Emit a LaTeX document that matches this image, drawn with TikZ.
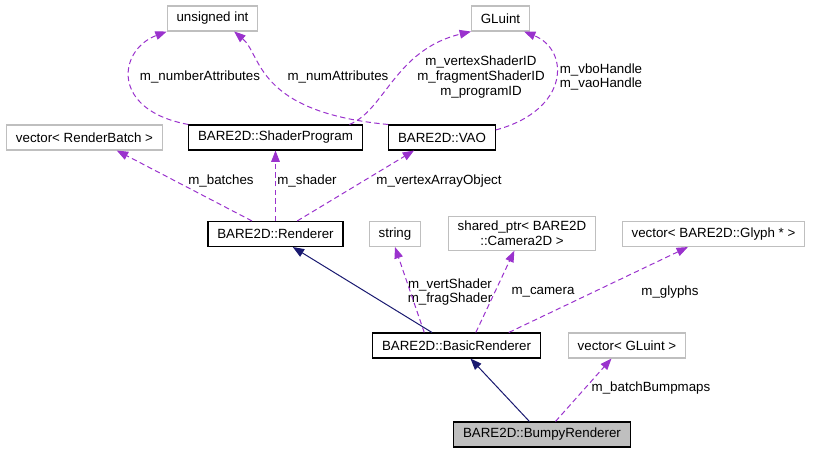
\documentclass[tikz,border=0pt]{standalone}
\usepackage{fontspec}
\setmainfont{Liberation Sans}
\usetikzlibrary{arrows.meta}

\definecolor{dxpurple}{HTML}{9A32CD}
\definecolor{dxnavy}{HTML}{191970}
\definecolor{dxgray}{HTML}{BFBFBF}

\begin{document}
\begin{tikzpicture}[x=0.75pt, y=-0.75pt, >={Triangle[length=8.5pt,width=6.5pt]},
    cls/.style={draw=black, line width=0.8pt, inner xsep=7pt, minimum height=18.75pt,
        font=\fontsize{10}{11}\selectfont},
    ext/.style={cls, draw=dxgray},
    usage/.style={->, dxpurple, line width=0.75pt, dash pattern=on 4pt off 2.5pt},
    inherit/.style={->, dxnavy, line width=0.75pt},
    lbl/.style={font=\fontsize{10}{11}\selectfont, align=center, inner sep=0pt}]
    \useasboundingbox (0,0) rectangle (813,453);

    % classes and members
    \node[ext] (uint) at (212.5,18.5) {unsigned int};
    \node[ext] (gluint) at (500.5,18.5) {GLuint};
    \node[ext] (rbatch) at (84.5,137.5) {vector< RenderBatch >};
    \node[cls] (shprog) at (275.5,137.5) {BARE2D::ShaderProgram};
    \node[cls] (vao) at (442,137.5) {BARE2D::VAO};
    \node[cls] (rend) at (275.5,234) {BARE2D::Renderer};
    \node[ext] (str) at (395,234) {string};
    \node[ext, align=center] (cam) at (522,233.5) {shared\_ptr< BARE2D\\::Camera2D >};
    \node[ext] (glyphs) at (713.5,234) {vector< BARE2D::Glyph * >};
    \node[cls] (basic) at (456.5,345.5) {BARE2D::BasicRenderer};
    \node[ext] (bumpmaps) at (627,345.5) {vector< GLuint >};
    \node[cls, fill=dxgray] (bumpy) at (542,434.5) {BARE2D::BumpyRenderer};

    % edge labels
    \node[lbl] (lnumber) at (200,77) {m\_numberAttributes};
    \node[lbl] (lnum) at (338,77) {m\_numAttributes};
    \node[lbl] (lids) at (481,77) {m\_vertexShaderID\\m\_fragmentShaderID\\m\_programID};
    \node[lbl] (lhandles) at (601,77) {m\_vboHandle\\m\_vaoHandle};
    \node[lbl] (lbatches) at (221,181) {m\_batches};
    \node[lbl] (lshader) at (307,181) {m\_shader};
    \node[lbl] (lvao) at (439,181) {m\_vertexArrayObject};
    \node[lbl] (lshaders) at (450,292) {m\_vertShader\\m\_fragShader};
    \node[lbl] (lcam) at (543,292) {m\_camera};
    \node[lbl] (lglyphs) at (670,292) {m\_glyphs};
    \node[lbl] (lbump) at (651,388) {m\_batchBumpmaps};

    % usage
    \draw[usage] (shprog.north west) .. controls (110,110) and (118,50) .. (uint.south west);
    \draw[usage] (vao.north west) .. controls (255,112) and (262,55) .. (uint.-31);
    \draw[usage] (shprog.10) .. controls (385,110) and (395,50) .. (gluint.south west);
    \draw[usage] (vao.8) .. controls (570,110) and (570,50) .. (gluint.-29);
    \draw[usage] (rend.151) -- (rbatch.-22);
    \draw[usage] (rend.north) -- (shprog.south);
    \draw[usage] (rend.31) -- (vao.-155);
    \draw[usage] (basic.158) -- (str.south);
    \draw[usage] (basic.34) -- (cam.-114);
    \draw[usage] (basic.14) -- (glyphs.-153);
    \draw[usage] (bumpy.44) -- (bumpmaps.-140);

    % inheritance
    \draw[inherit] (basic.152) -- (rend.-37);
    \draw[inherit] (bumpy.134) -- (basic.-43);
\end{tikzpicture}
\end{document}
